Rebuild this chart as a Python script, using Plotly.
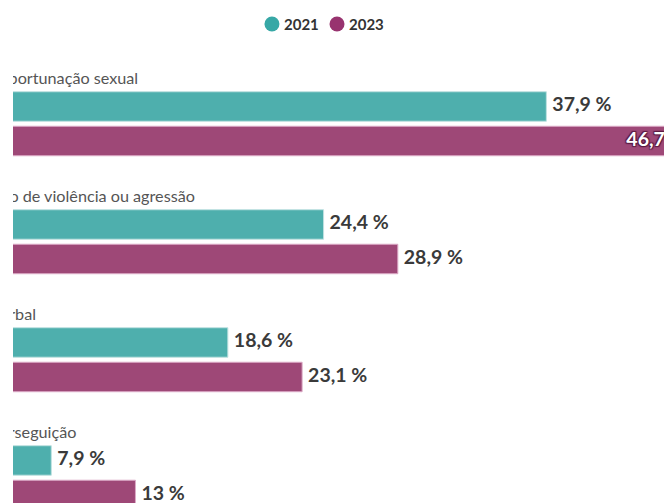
import plotly.graph_objects as go

categories = ["Importunação sexual", "Uso de violência ou agressão", "Verbal", "Perseguição"]
years = ["2021", "2023"]
values_2021 = [37.9, 24.4, 18.6, 7.9]
values_2023 = [46.7, 28.9, 23.1, 13.0]

colors = {"2021": "#4eafad", "2023": "#9e4877"}
edge = {"2021": "#bfe1e0", "2023": "#dcaac6"}
legend_colors = {"2021": "#37a8a6", "2023": "#98336f"}

FONT = "Lato"
BAR_W = 0.25
OFFSETS = {"2021": 0.2415, "2023": 0.534}
LABEL_X = 4.24
LABEL_DY = 0.015

def fmt(v):
    s = ("%.1f" % v).replace(".", ",")
    if s.endswith(",0"):
        s = s[:-2]
    return s + " %"

fig = go.Figure()
series = {"2021": values_2021, "2023": values_2023}
vmax = max(values_2021 + values_2023)
idx = list(range(len(categories)))

for yr in years:
    vals = series[yr]
    ys = [i + OFFSETS[yr] for i in idx]
    fig.add_trace(go.Bar(
        x=vals, y=ys, orientation="h", width=BAR_W, name=yr,
        marker=dict(color=colors[yr], line=dict(color=edge[yr], width=1)),
        showlegend=False, hoverinfo="skip"))
    out_x = [v for v in vals if v < vmax]
    out_y = [y for v, y in zip(vals, ys) if v < vmax]
    fig.add_trace(go.Scatter(
        x=out_x, y=out_y, mode="markers+text", text=[fmt(v) for v in out_x],
        textposition="middle right", marker=dict(size=8, opacity=0),
        textfont=dict(family=FONT, size=19.5, color="#3a3a3a", weight="bold"),
        cliponaxis=True, showlegend=False, hoverinfo="skip"))
    in_x = [v for v in vals if v >= vmax]
    in_y = [y for v, y in zip(vals, ys) if v >= vmax]
    if in_x:
        fig.add_trace(go.Scatter(
            x=in_x, y=in_y, mode="markers+text", text=[fmt(v) for v in in_x],
            textposition="middle left", marker=dict(size=8, opacity=0),
            textfont=dict(family=FONT, size=19.5, color="white", weight="bold",
                          shadow="1px 1px 1px #5a1a40, -1px -1px 1px #5a1a40, 1px -1px 1px #5a1a40, -1px 1px 1px #5a1a40"),
            cliponaxis=True, showlegend=False, hoverinfo="skip"))

fig.add_trace(go.Scatter(
    x=[LABEL_X] * len(categories), y=[i + LABEL_DY for i in idx], mode="text", text=categories,
    textposition="middle right",
    textfont=dict(family=FONT, size=16.2, color="#555555"),
    cliponaxis=True, showlegend=False, hoverinfo="skip"))

# legend
shapes = []
annotations = []
leg_x = {"2021": 0.3978, "2023": 0.4977}
for yr in years:
    shapes.append(dict(type="circle", xref="paper", yref="paper",
                       xsizemode="pixel", ysizemode="pixel",
                       xanchor=leg_x[yr], yanchor=0.9523,
                       x0=-7.5, x1=7.5, y0=-7.5, y1=7.5,
                       fillcolor=legend_colors[yr], line=dict(width=0)))
    annotations.append(dict(text="<b>" + yr + "</b>", xref="paper", yref="paper",
                            x=leg_x[yr] + 0.0154, y=0.9523, xanchor="left", yanchor="middle",
                            showarrow=False,
                            font=dict(family=FONT, size=15, color="#333333")))

fig.update_layout(
    width=664, height=503,
    margin=dict(l=13, r=0, t=0, b=0),
    paper_bgcolor="white", plot_bgcolor="white",
    barmode="overlay",
    xaxis=dict(range=[5.58, 45.03], visible=False, fixedrange=True),
    yaxis=dict(range=[3.602, -0.661], visible=False, fixedrange=True),
    shapes=shapes, annotations=annotations,
    showlegend=False,
)

fig.write_html("out.html")
